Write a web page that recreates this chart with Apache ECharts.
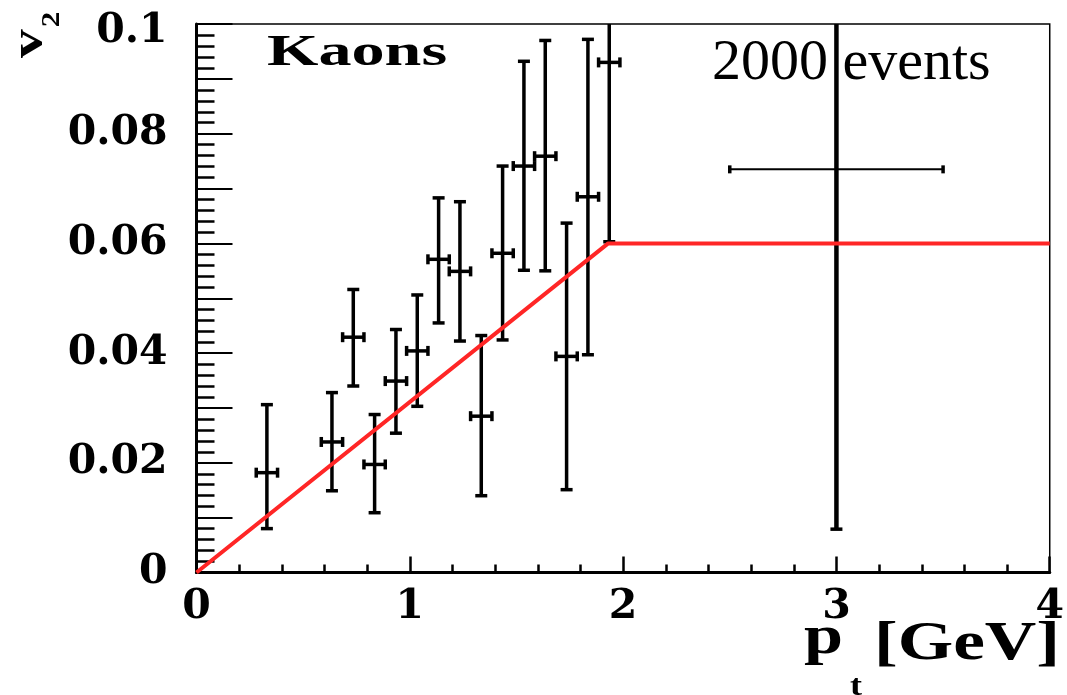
<!DOCTYPE html>
<html>
<head>
<meta charset="utf-8">
<script src="https://cdn.jsdelivr.net/npm/echarts@6/dist/echarts.min.js"></script>
<style>
  html, body { margin: 0; padding: 0; background: #fff; }
  #chart { width: 1067px; height: 695px; }
</style>
</head>
<body>
<div id="chart"></div>
<script>
// Kaon elliptic flow v2 versus transverse momentum, 2000 events
const ptCenters   = [0.33, 0.635, 0.735, 0.835, 0.935, 1.035, 1.135, 1.235, 1.335, 1.435, 1.535, 1.635, 1.735, 1.835, 1.935, 3.0];
const ptHalfWidth = [0.05, 0.05, 0.05, 0.05, 0.05, 0.05, 0.05, 0.05, 0.05, 0.05, 0.05, 0.05, 0.05, 0.05, 0.05, 0.5];
const v2Values    = [0.0182, 0.0238, 0.0429, 0.0197, 0.0349, 0.0404, 0.0571, 0.0549, 0.0285, 0.0582, 0.0741, 0.0759, 0.0394, 0.0685, 0.0930, 0.0735];
const v2Low       = [0.0080, 0.0149, 0.0340, 0.0109, 0.0254, 0.0303, 0.0455, 0.0422, 0.0140, 0.0424, 0.0551, 0.0550, 0.0151, 0.0397, 0.0603, 0.0079];
const v2High      = [0.0306, 0.0328, 0.0516, 0.0288, 0.0443, 0.0506, 0.0683, 0.0676, 0.0432, 0.0741, 0.0932, 0.0970, 0.0637, 0.0972, 0.1257, 0.1391];

// input v2(pt) parametrisation: linear rise, then constant
const curvePt = [0, 1.93, 4];
const curveV2 = [0, 0.06, 0.06];

const boldSerif = '"DejaVu Serif", serif';
const timesFont = '"Liberation Serif", "Times New Roman", serif';

const pointData = ptCenters.map((p, i) => [p, v2Values[i], ptHalfWidth[i], v2Low[i], v2High[i]]);
const curveData = curvePt.map((p, i) => [p, curveV2[i]]);

// one data point: vertical (v2) and horizontal (pt bin) error bars with end caps,
// clipped at the top of the frame
function renderErrorBar(params, api) {
  const x = api.value(0), y = api.value(1), hw = api.value(2);
  const lo = api.value(3), hi = api.value(4);
  const cs = params.coordSys;
  const c = api.coord([x, y]);
  const left = api.coord([x - hw, y])[0];
  const right = api.coord([x + hw, y])[0];
  const rawTop = api.coord([x, hi])[1];
  const bot = api.coord([x, lo])[1];
  const top = Math.max(rawTop, cs.y);
  const wide = (right - left) > 60;
  const vW = wide ? 4.5 : 3.5;
  const hW = wide ? 2 : 3.5;
  const capHalf = 6;
  const tickHalf = wide ? 4 : 5;
  const st = { stroke: '#000', lineWidth: 3.5 };
  const children = [
    { type: 'line', shape: { x1: c[0], y1: top, x2: c[0], y2: bot }, style: { stroke: '#000', lineWidth: vW } },
    { type: 'line', shape: { x1: left, y1: c[1], x2: right, y2: c[1] }, style: { stroke: '#000', lineWidth: hW } },
    { type: 'line', shape: { x1: c[0] - capHalf, y1: bot, x2: c[0] + capHalf, y2: bot }, style: st },
    { type: 'line', shape: { x1: left, y1: c[1] - tickHalf, x2: left, y2: c[1] + tickHalf }, style: st },
    { type: 'line', shape: { x1: right, y1: c[1] - tickHalf, x2: right, y2: c[1] + tickHalf }, style: st }
  ];
  if (rawTop >= cs.y) {
    children.push({ type: 'line', shape: { x1: c[0] - capHalf, y1: top, x2: c[0] + capHalf, y2: top }, style: st });
  }
  return { type: 'group', children: children };
}

function yLabel(v) {
  const k = Math.round(v * 100);
  if (k % 2) return '';
  if (k === 0) return '0';
  if (k === 10) return '{t|0.1}';
  return (k / 100).toFixed(2);
}

const labelStyle = { fontFamily: boldSerif, fontWeight: 'bold', fontSize: 41, color: '#000' };

const chart = echarts.init(document.getElementById('chart'), null, { renderer: 'canvas' });
chart.setOption({
  animation: false,
  backgroundColor: '#fff',
  grid: {
    left: 196.5, right: 13, top: 24, bottom: 122.5,
    show: true, borderColor: '#000', borderWidth: 1.5, backgroundColor: 'transparent'
  },
  xAxis: {
    type: 'value', min: 0, max: 4, interval: 1,
    axisLine: { onZero: false, lineStyle: { color: '#000', width: 3 } },
    axisTick: { inside: true, length: 16, lineStyle: { color: '#000', width: 2.5 } },
    minorTick: { show: true, splitNumber: 5, length: 8, lineStyle: { color: '#000', width: 2.5 } },
    splitLine: { show: false },
    axisLabel: Object.assign({ margin: 14 }, labelStyle)
  },
  yAxis: {
    type: 'value', min: 0, max: 0.1, interval: 0.01,
    axisLine: { onZero: false, lineStyle: { color: '#000', width: 3 } },
    axisTick: { inside: true, length: 36, lineStyle: { color: '#000', width: 2 } },
    minorTick: { show: true, splitNumber: 5, length: 18, lineStyle: { color: '#000', width: 2.5 } },
    splitLine: { show: false },
    axisLabel: Object.assign({
      margin: 29, formatter: yLabel,
      rich: { t: Object.assign({ padding: [14, 0, 0, 0] }, labelStyle) }
    }, labelStyle)
  },
  series: [
    {
      type: 'custom',
      renderItem: renderErrorBar,
      data: pointData,
      encode: { x: 0, y: 1 },
      z: 2
    },
    {
      type: 'line',
      data: curveData,
      showSymbol: false,
      symbol: 'none',
      clip: true,
      lineStyle: { color: '#ff2626', width: 4 },
      z: 3
    }
  ],
  graphic: [
    {
      type: 'text', x: 267, y: 53, scaleX: 1.47,
      style: { text: 'Kaons', font: 'bold 45px ' + timesFont, fill: '#000', align: 'left', verticalAlign: 'middle' }
    },
    {
      type: 'text', x: 712, y: 63.5,
      style: { text: '2000 events', font: '58px ' + timesFont, fill: '#000', align: 'left', verticalAlign: 'middle' }
    },
    {
      type: 'text', x: 804, y: 639, scaleX: 1.3,
      style: { text: 'p', font: 'bold 54px ' + timesFont, fill: '#000', align: 'left', verticalAlign: 'middle' }
    },
    {
      type: 'text', x: 850, y: 687, scaleX: 1.2,
      style: { text: 't', font: 'bold 30px ' + timesFont, fill: '#000', align: 'left', verticalAlign: 'middle' }
    },
    {
      type: 'text', x: 874, y: 645, scaleX: 1.32,
      style: { text: '[GeV]', font: 'bold 54px ' + timesFont, fill: '#000', align: 'left', verticalAlign: 'middle' }
    },
    {
      type: 'text', x: 29.8, y: 43.5, rotation: Math.PI / 2, scaleX: 1.25,
      style: { text: 'v', font: 'bold 46px ' + timesFont, fill: '#000', align: 'center', verticalAlign: 'middle' }
    },
    {
      type: 'text', x: 52, y: 19.5, rotation: Math.PI / 2, scaleX: 1.2,
      style: { text: '2', font: 'bold 26px ' + timesFont, fill: '#000', align: 'center', verticalAlign: 'middle' }
    }
  ]
});
</script>
</body>
</html>
